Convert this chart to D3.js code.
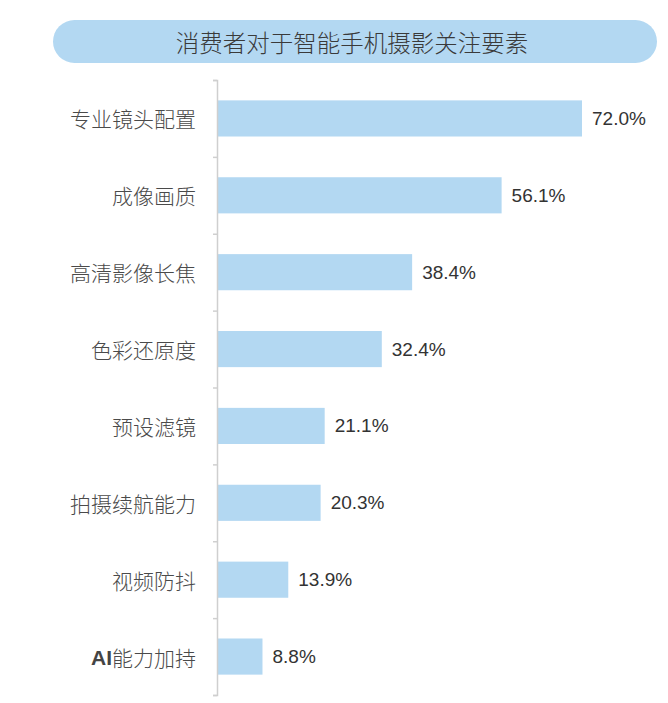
<!DOCTYPE html>
<html><head><meta charset="utf-8">
<script src="https://cdn.jsdelivr.net/npm/d3@7"></script>
<style>body{margin:0;background:#fff}</style>
</head><body>
<svg id="c" width="668" height="703"></svg>
<script>
const title = "消费者对于智能手机摄影关注要素";
const categories = ["专业镜头配置","成像画质","高清影像长焦","色彩还原度","预设滤镜","拍摄续航能力","视频防抖","AI能力加持"];
const values = [72.0,56.1,38.4,32.4,21.1,20.3,13.9,8.8];

const svg = d3.select("#c");
const x0 = 217;
const x = d3.scaleLinear().domain([0,72]).range([x0, 581]);
const y = d3.scaleBand().domain(categories).range([80, 695]).paddingInner(0.53).paddingOuter(0.265);

// title pill
svg.append("rect").attr("x",53).attr("y",20).attr("width",604).attr("height",43)
  .attr("rx",21.5).attr("fill","#b3d8f2");
svg.append("text").attr("x",352).attr("y",42).attr("text-anchor","middle")
  .attr("dominant-baseline","central")
  .attr("font-family","'Noto Sans CJK SC'").attr("font-weight",300).attr("font-size",23.5)
  .attr("fill","#3a3a3a").text(title);

// bars
svg.selectAll("rect.bar").data(values).join("rect").attr("class","bar")
  .attr("x", x(0)+1).attr("y",(d,i)=>y(categories[i]))
  .attr("width",d=>x(d)-x(0)).attr("height",y.bandwidth())
  .attr("fill","#b3d8f2");

// axis
const yAxis = d3.axisLeft(d3.scalePoint().domain(d3.range(categories.length+1)).range([80,695]))
  .tickSize(4).tickFormat("");
const ax = svg.append("g").attr("transform",`translate(${x0},0)`).call(yAxis);
ax.select(".domain").attr("stroke","#cfcfcf").attr("stroke-width",1.5);
ax.selectAll(".tick line").attr("stroke","#cfcfcf").attr("stroke-width",1.5);

// category labels
svg.selectAll("text.cat").data(categories).join("text").attr("class","cat")
  .attr("x",196).attr("y",d=>y(d)+y.bandwidth()/2).attr("text-anchor","end")
  .attr("dominant-baseline","central")
  .attr("font-family","'Noto Sans CJK SC'").attr("font-weight",300).attr("font-size",21).attr("fill","#4a4a4a")
  .each(function(d){
    const t = d3.select(this);
    if (d.startsWith("AI")) {
      t.append("tspan").attr("font-family","Arial, 'Liberation Sans'").attr("font-weight","bold").attr("fill","#444").text("AI");
      t.append("tspan").text(d.slice(2));
    } else t.text(d);
  });

// value labels
svg.selectAll("text.val").data(values).join("text").attr("class","val")
  .attr("x",d=>x(d)+11).attr("y",(d,i)=>y(categories[i])+y.bandwidth()/2)
  .attr("dominant-baseline","central")
  .attr("font-family","'Liberation Sans', Arial").attr("font-size",19).attr("fill","#333")
  .text(d=>d.toFixed(1)+"%");
</script>
</body></html>
